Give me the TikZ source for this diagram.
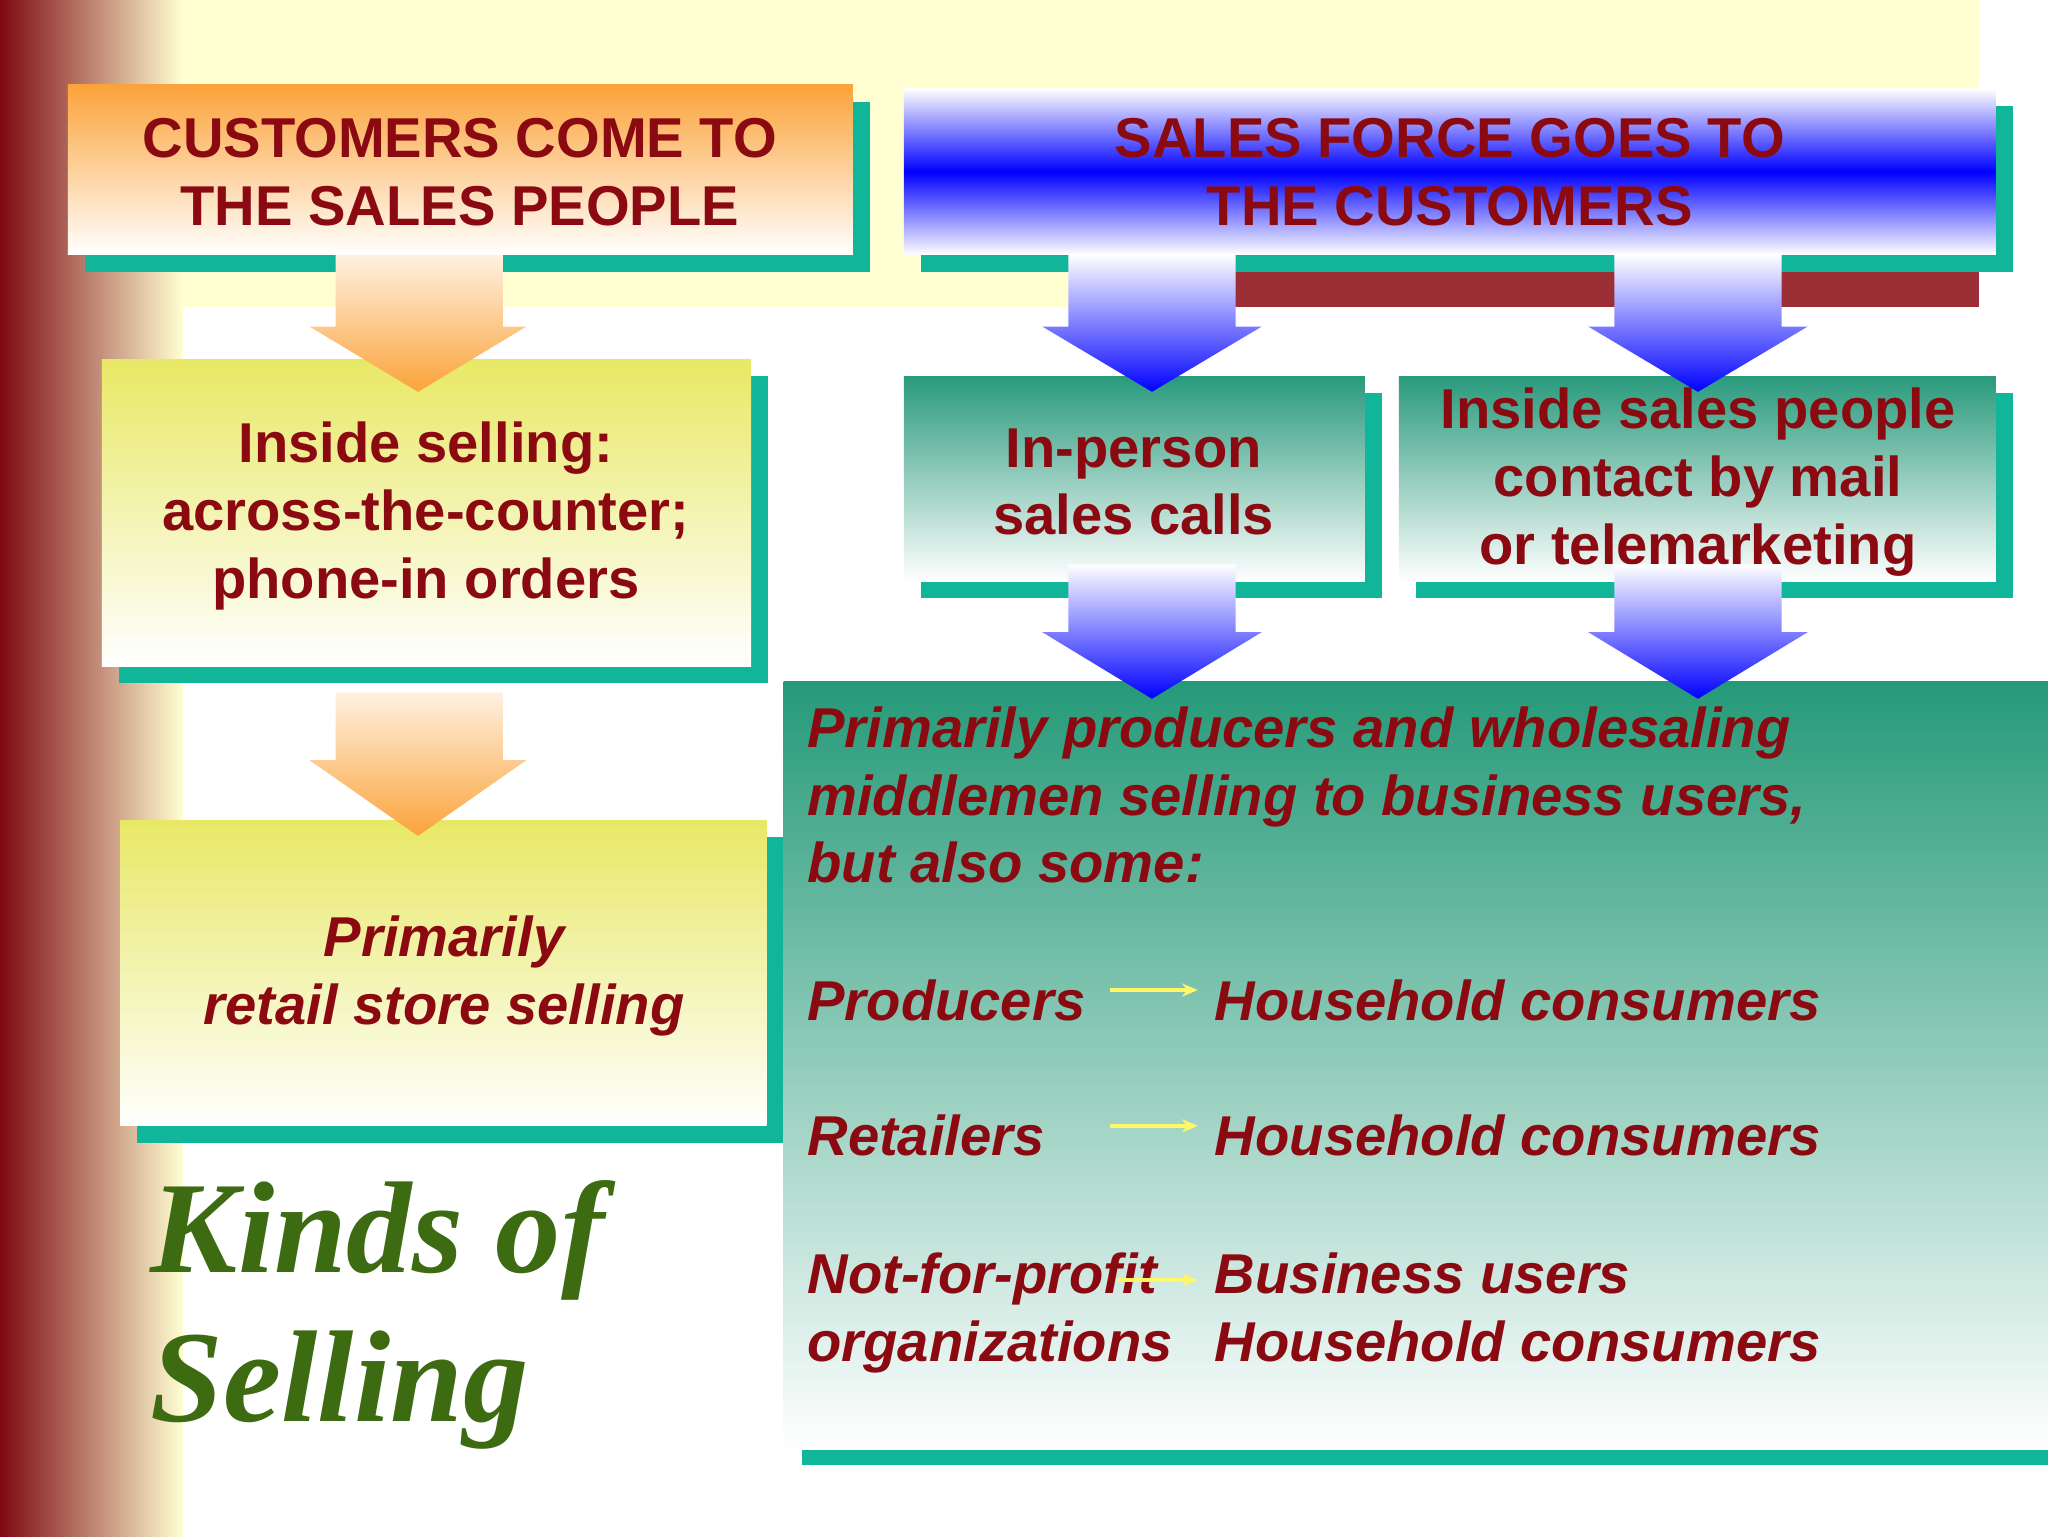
\documentclass[tikz,border=0pt]{standalone}
\usepackage{fontspec}
\usetikzlibrary{arrows.meta}
\setmainfont{Liberation Sans}
\newfontfamily\kindsfont{Liberation Serif}
\definecolor{tred}{HTML}{8B0A12}
\definecolor{teal}{HTML}{10B59A}
\definecolor{bigteal}{HTML}{259A78}
\definecolor{cream}{HTML}{FFFFD2}
\definecolor{ygreen}{HTML}{E8E866}
\definecolor{orng}{HTML}{FBA33A}
\definecolor{boxteal}{HTML}{2A9A7C}
\definecolor{kgreen}{HTML}{3D6B12}
\begin{document}
\begin{tikzpicture}[x=1pt,y=-1pt,
  txt/.style={text=tred,font=\fontsize{43}{52}\selectfont\bfseries,align=center},
  shadowbox/.style={fill=teal},
  oarrow/.style={top color=orng!15,bottom color=orng},
  barrow/.style={top color=white,bottom color=blue},
  yarr/.style={draw=yellow!60,line width=3pt,-{Stealth[length=12pt,width=10pt]}}]
\useasboundingbox (0,0) rectangle (1568,1176);
\fill[white] (0,0) rectangle (1568,1176);
\fill[cream] (0,0) rectangle (1515,235);
\shade[left color=tred!90!black,right color=cream] (0,0) rectangle (140,1176);
\fill[tred!85] (945,205) rectangle (1515,235);
% box1
\fill[shadowbox] (65,78) rectangle (666,208);
\shade[top color=orng,bottom color=white] (52,65) rectangle (653,195);
\node[txt] (b1) at (352,132) {CUSTOMERS COME TO\\THE SALES PEOPLE};
% box2
\fill[shadowbox] (705,81) rectangle (1541,208);
\shade[top color=white,bottom color=white,middle color=blue] (692,68) rectangle (1528,195);
\node[txt] (b2) at (1110,132) {SALES FORCE GOES TO\\THE CUSTOMERS};
% box3
\fill[shadowbox] (91,288) rectangle (588,523);
\shade[top color=ygreen,bottom color=white] (78,275) rectangle (575,510);
\node[txt] (b3) at (326,395) {Inside selling:\\across-the-counter;\\phone-in orders};
% box4
\fill[shadowbox] (105,641) rectangle (600,875);
\shade[top color=ygreen,bottom color=white] (92,628) rectangle (587,862);
\node[txt,font=\fontsize{43}{52}\selectfont\bfseries\itshape] (b4) at (340,747) {Primarily\\retail store selling};
% orange arrows
\shade[oarrow] (257,195) -- (385,195) -- (385,250) -- (403,250) -- (320,300) -- (237,250) -- (257,250) -- cycle;
\shade[oarrow] (257,530) -- (385,530) -- (385,582) -- (403,582) -- (320,640) -- (237,582) -- (257,582) -- cycle;
% box5,6
\fill[shadowbox] (705,301) rectangle (1058,458);
\shade[top color=boxteal,bottom color=white] (692,288) rectangle (1045,445);
\node[txt] (b5) at (868,369) {In-person\\sales calls};
\fill[shadowbox] (1084,301) rectangle (1541,458);
\shade[top color=boxteal,bottom color=white] (1071,288) rectangle (1528,445);
\node[txt] (b6) at (1300,369) {Inside sales people\\contact by mail\\or telemarketing};
% big box
\fill[shadowbox] (614,535) rectangle (1568,1122);
\shade[top color=bigteal,bottom color=white] (600,522) rectangle (1568,1110);
% blue arrows
\foreach \c/\a/\b/\t in {882/195/250/300,1300/195/250/300,882/432/484/535,1300/432/484/535}
  \shade[barrow] (\c-64,\a) -- (\c+64,\a) -- (\c+64,\b) -- (\c+84,\b) -- (\c,\t) -- (\c-84,\b) -- (\c-64,\b) -- cycle;
\begin{scope}[every node/.style={text=tred,font=\fontsize{43}{52}\selectfont\bfseries\itshape,anchor=base west,inner sep=0pt}]
\node (p1) at (618,572) {Primarily producers and wholesaling};
\node (p2) at (618,624) {middlemen selling to business users,};
\node (p3) at (618,676) {but also some:};
\node (l1) at (618,781) {Producers};
\node (r1) at (930,781) {Household consumers};
\node (l2) at (618,885) {Retailers};
\node (r2) at (930,885) {Household consumers};
\node (l3) at (618,990) {Not-for-profit};
\node (r3) at (930,990) {Business users};
\node (l4) at (618,1042) {organizations};
\node (r4) at (930,1042) {Household consumers};
\end{scope}
\coordinate (a1s) at (850,758); \coordinate (a1e) at (917,758);
\coordinate (a2s) at (850,862); \coordinate (a2e) at (917,862);
\coordinate (a3s) at (855,980); \coordinate (a3e) at (917,980);
\draw[yarr] (a1s) -- (a1e);
\draw[yarr] (a2s) -- (a2e);
\draw[yarr] (a3s) -- (a3e);
\node[text=kgreen,font=\kindsfont\fontsize{100}{114}\selectfont\bfseries\itshape,align=left,anchor=north west] (k) at (112,900) {Kinds of\\Selling};
\end{tikzpicture}
\end{document}
